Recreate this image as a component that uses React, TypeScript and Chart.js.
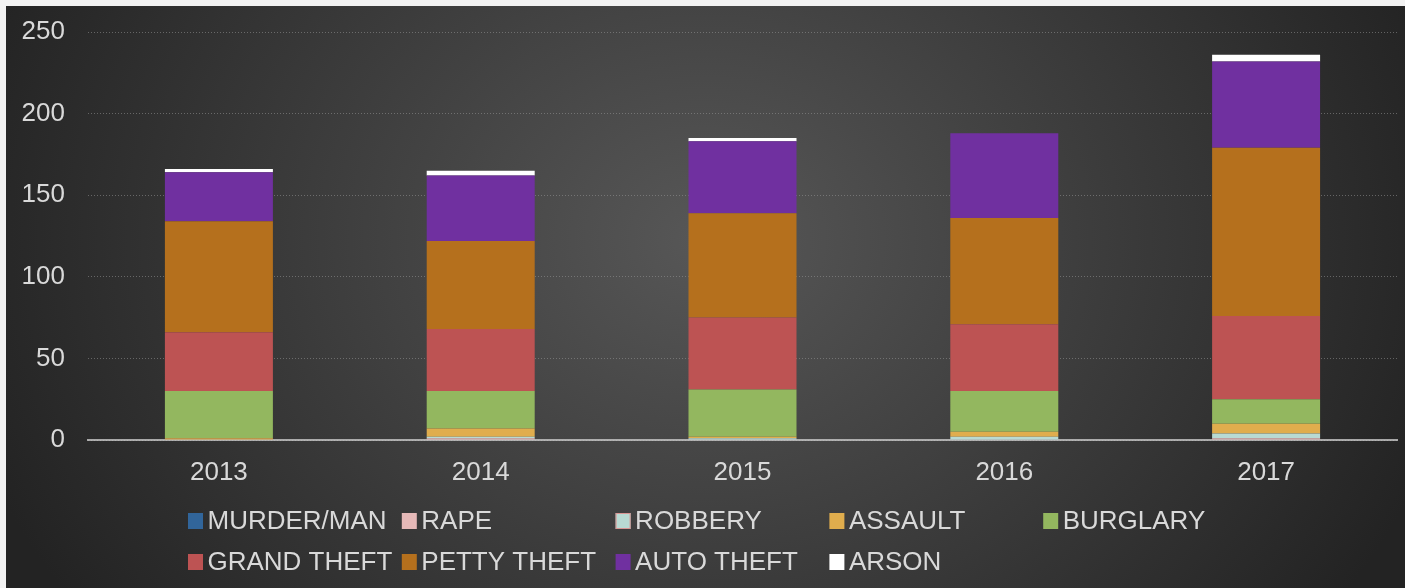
import React, { useEffect, useRef } from "react";
import { Chart, registerables } from "chart.js";

Chart.register(...registerables);

const years = ["2013", "2014", "2015", "2016", "2017"];
const seriesNames = ["MURDER/MAN", "RAPE", "ROBBERY", "ASSAULT", "BURGLARY", "GRAND THEFT", "PETTY THEFT", "AUTO THEFT", "ARSON"];
const murder = [0, 0, 0, 0, 0];
const rape = [0, 1, 0, 0, 1];
const robbery = [0, 1, 1, 2, 3];
const assault = [1, 5, 1, 3, 6];
const burglary = [29, 23, 29, 25, 15];
const grandTheft = [36, 38, 44, 41, 51];
const pettyTheft = [68, 54, 64, 65, 103];
const autoTheft = [30, 40, 44, 52, 53];
const arson = [2, 3, 2, 0, 4];
const yTicks = [0, 50, 100, 150, 200, 250];

const seriesValues = [murder, rape, robbery, assault, burglary, grandTheft, pettyTheft, autoTheft, arson];
const seriesColors = ["#31659a", "#e6b9b8", "#b8dad3", "#e0ad4d", "#93b75f", "#bd5353", "#b5701d", "#7030a0", "#ffffff"];

const FONT = '"Liberation Sans", Arial, sans-serif';
const TEXT = "#d9d9d9";

const gridLegend = {
  id: "gridLegend",
  afterDraw(chart: any) {
    const ctx = chart.ctx;
    const left = 182;
    const colW = 213.8;
    const rowY = [515, 556];
    ctx.save();
    ctx.font = `26px ${FONT}`;
    ctx.textBaseline = "middle";
    ctx.textAlign = "left";
    chart.data.datasets.forEach((ds: any, i: number) => {
      const col = i % 5;
      const row = Math.floor(i / 5);
      const x = left + col * colW;
      const y = rowY[row];
      ctx.fillStyle = ds.backgroundColor;
      ctx.fillRect(x, y - 8, 15, 16);
      if (i === 2) {
        ctx.strokeStyle = "#d99694";
        ctx.lineWidth = 1;
        ctx.strokeRect(x + 0.5, y - 7.5, 14, 15);
      }
      ctx.fillStyle = TEXT;
      ctx.fillText(ds.label, x + 19.5, y + 1);
    });
    ctx.restore();
  },
};

export default function App() {
  const ref = useRef<HTMLCanvasElement | null>(null);
  useEffect(() => {
    if (!ref.current) return;
    const chart = new Chart(ref.current, {
      type: "bar",
      data: {
        labels: years,
        datasets: seriesNames.map((name, i) => ({
          label: name,
          data: seriesValues[i],
          backgroundColor: seriesColors[i],
          borderWidth: 0,
          categoryPercentage: 1,
          barPercentage: 0.4125,
        })),
      },
      options: {
        responsive: false,
        animation: false,
        layout: { padding: { left: 0, right: 8, top: 26, bottom: 88 } },
        plugins: { legend: { display: false }, tooltip: { enabled: false } },
        scales: {
          x: {
            stacked: true,
            grid: { display: false, drawTicks: false },
            border: { display: true, color: "rgba(200,200,200,0.8)", width: 2, dash: [2, 2] },
            ticks: { color: TEXT, font: { size: 26, family: FONT }, padding: 17 },
            afterFit: (s: any) => { s.height = 60; s.paddingTop = 0; s.paddingBottom = 0; },
          },
          y: {
            stacked: true,
            min: 0,
            max: 250,
            afterBuildTicks: (s: any) => { s.ticks = yTicks.map((v) => ({ value: v })); },
            grid: { color: "rgba(150,150,150,0.55)", lineWidth: 1, drawTicks: false },
            border: { display: false, dash: [1, 2] },
            ticks: { color: TEXT, font: { size: 26, family: FONT }, padding: 23 },
            afterFit: (s: any) => { s.width = 82; s.paddingTop = 0; s.paddingBottom = 0; },
          },
        },
      },
      plugins: [gridLegend],
    });
    return () => chart.destroy();
  }, []);

  return (
    <div style={{ position: "fixed", inset: 0, background: "#f2f2f2", overflow: "hidden" }}>
      <div
        style={{
          position: "absolute",
          left: 6,
          top: 6,
          width: 1399,
          height: 582,
          background: "radial-gradient(ellipse 55% 110% at 50% 40%, #575757 0%, #232323 100%)",
        }}
      >
        <canvas ref={ref} width={1399} height={582} style={{ display: "block", width: 1399, height: 582 }} />
      </div>
    </div>
  );
}
